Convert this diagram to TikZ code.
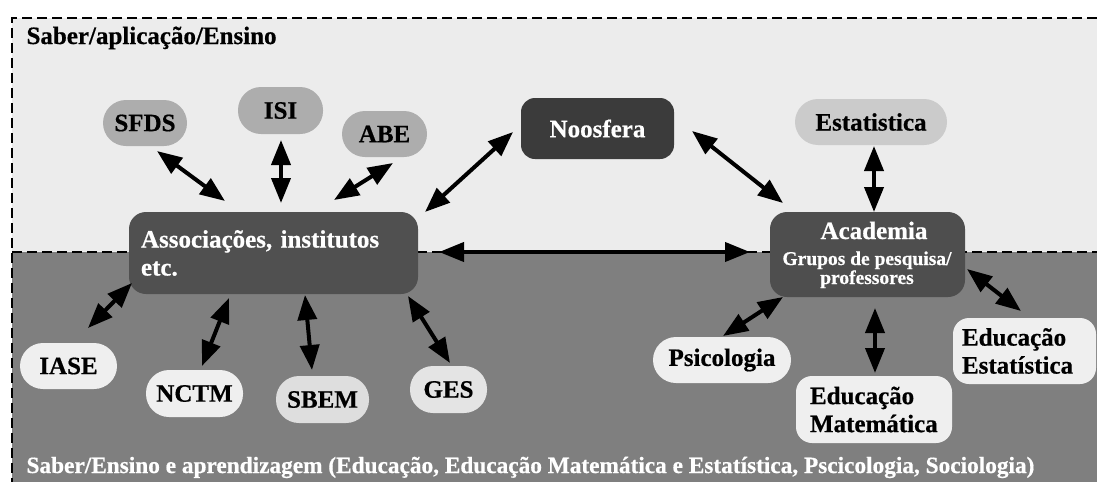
\documentclass[tikz,border=0pt]{standalone}
\usepackage{fontspec}
\setmainfont{Liberation Serif}[BoldFeatures={FakeBold=0.6}]
\usetikzlibrary{arrows.meta}
\definecolor{upbg}{HTML}{ECECEC}
\definecolor{lowbg}{HTML}{7F7F7F}
\definecolor{assocc}{HTML}{505050}
\definecolor{acadc}{HTML}{4E4E4E}
\definecolor{noosc}{HTML}{3B3B3B}
\definecolor{midg}{HTML}{ADADAD}
\definecolor{estc}{HTML}{CBCBCB}
\definecolor{lightg}{HTML}{EFEFEF}
\definecolor{sbemc}{HTML}{DEDEDE}
\definecolor{gesc}{HTML}{E4E4E4}
\newcommand{\mynodefont}{\fontsize{25}{28}\selectfont\bfseries}
\newcommand{\mysmallfont}{\fontsize{19.5}{19}\selectfont\bfseries}
\newcommand{\mytitlefont}{\fontsize{25}{30}\selectfont\bfseries}
\newcommand{\mybottomfont}{\fontsize{23.3}{28}\selectfont\bfseries}
\tikzset{
  pill/.style={rounded corners=23pt, inner sep=0pt, minimum height=46pt, font=\mynodefont},
  boxn/.style={rounded corners=16pt, inner sep=0pt, font=\mynodefont},
  arr/.style={line width=4pt, {Triangle[length=25pt,width=19pt]}-{Triangle[length=25pt,width=19pt]}},
  dashline/.style={line width=2pt, dash pattern=on 10pt off 5pt}
}
\begin{document}
\begin{tikzpicture}[x=1pt,y=-1pt]
\useasboundingbox (0,0) rectangle (1097,482);
\fill[white] (0,0) rectangle (1097,482);
\fill[upbg] (12,18) rectangle (1097,252);
\fill[lowbg] (12,252) rectangle (1097,482);
\draw[dashline] (1097,18) -- (12,18) -- (12,482);
\draw[dashline] (12,252) -- (1097,252);

\node[anchor=base west, font=\mytitlefont] (title) at (23,44) {Saber/aplicação/Ensino};
\node[anchor=base west, font=\mybottomfont, text=white] (bottom) at (23,473) {Saber/Ensino e aprendizagem (Educação, Educação Matemática e Estatística, Pscicologia, Sociologia)};

\node[pill, fill=midg, minimum width=84pt] (sfds) at (145,123) {SFDS};
\node[pill, fill=midg, minimum width=85pt, minimum height=47pt] (isi) at (280.5,110.5) {ISI};
\node[pill, fill=midg, minimum width=85pt] (abe) at (384.5,134) {ABE};
\node[boxn, fill=noosc, text=white, minimum width=153pt, minimum height=61pt, rounded corners=14pt] (noos) at (597.5,128.5) {Noosfera};
\node[pill, fill=estc, minimum width=152pt] (est) at (871,122) {Estatistica};

\node[boxn, fill=assocc, text=white, minimum width=289pt, minimum height=82pt, text width=265pt, align=left, inner xsep=12pt, rounded corners=17pt] (assoc) at (273.5,253) {Associações, institutos\\etc.};

\node[boxn, fill=acadc, minimum width=195pt, minimum height=85pt, rounded corners=17pt] (acad) at (867.5,254.5) {};
\node[anchor=base, text=white, font=\mynodefont] (acadname) at (874,239) {Academia};
\node[anchor=base, text=white, font=\mysmallfont] (acadsubA) at (867,265) {Grupos de pesquisa/};
\node[anchor=base, text=white, font=\mysmallfont] (acadsubB) at (867,284) {professores};

\node[pill, fill=lightg, minimum width=97pt] (iase) at (68.5,366) {IASE};
\node[pill, fill=lightg, minimum width=97pt, minimum height=47pt] (nctm) at (194.5,393.5) {NCTM};
\node[pill, fill=sbemc, minimum width=93pt, minimum height=47pt] (sbem) at (322.5,399.5) {SBEM};
\node[pill, fill=gesc, minimum width=77pt, minimum height=47pt] (ges) at (448.5,389.5) {GES};
\node[pill, fill=lightg, minimum width=138pt] (psi) at (722,360) {Psicologia};
\node[boxn, fill=lightg, minimum width=156pt, minimum height=67pt, text width=128pt, inner xsep=14pt, align=left] (edmat) at (874,409.5) {Educação\\Matemática};
\node[boxn, fill=lightg, minimum width=143pt, minimum height=66pt, text width=125pt, inner xsep=9pt, align=left] (edest) at (1024.5,351) {Educação\\Estatística};

\draw[arr] ([shift={(12,28)}]sfds.center) -- ([shift={(-48.5,-52)}]assoc.center);
\draw[arr] ([shift={(0.5,29.5)}]isi.center) -- ([shift={(7.5,-50)}]assoc.center);
\draw[arr] ([shift={(8.5,29)}]abe.center) -- ([shift={(60.5,-53)}]assoc.center);
\draw[arr] ([shift={(-84.5,3.5)}]noos.center) -- ([shift={(151.5,-41)}]assoc.center);
\draw[arr] ([shift={(94.5,2.5)}]noos.center) -- ([shift={(-84.5,-51.5)}]acad.center);
\draw[arr] ([shift={(3,24)}]est.center) -- ([shift={(6.5,-42.5)}]acad.center);
\draw[arr] ([shift={(165.5,-1)}]assoc.center) -- ([shift={(-117.5,-2.5)}]acad.center);
\draw[arr] ([shift={(-141.5,30)}]assoc.center) -- ([shift={(19.5,-38)}]iase.center);
\draw[arr] ([shift={(-44.5,45)}]assoc.center) -- ([shift={(7.5,-27.5)}]nctm.center);
\draw[arr] ([shift={(31.5,42)}]assoc.center) -- ([shift={(-10.5,-29.5)}]sbem.center);
\draw[arr] ([shift={(134.5,43)}]assoc.center) -- ([shift={(1.5,-26.5)}]ges.center);
\draw[arr] ([shift={(-84.5,42.5)}]acad.center) -- ([shift={(1,-24)}]psi.center);
\draw[arr] ([shift={(7.5,53.5)}]acad.center) -- ([shift={(1,-36.5)}]edmat.center);
\draw[arr] ([shift={(99.5,14.5)}]acad.center) -- ([shift={(-3.5,-40)}]edest.center);
\end{tikzpicture}
\end{document}
